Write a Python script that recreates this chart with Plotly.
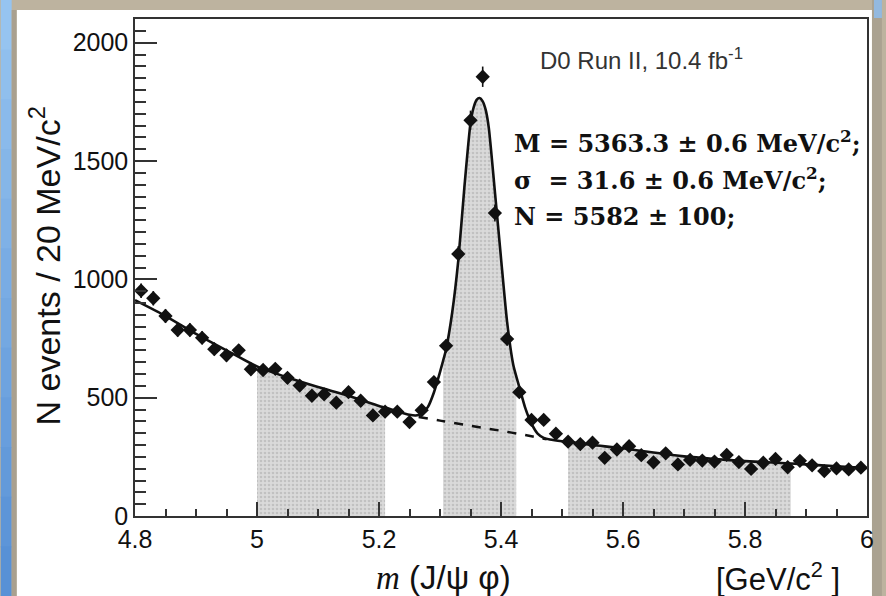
import numpy as np
import plotly.graph_objects as go

# ---------------- data ----------------
bin_lo, bin_w, n_bins = 4.80, 0.02, 60
bin_centers = np.round(bin_lo + bin_w / 2 + bin_w * np.arange(n_bins), 3)
counts = [952, 920, 845, 786, 786, 753, 705, 679, 700, 620,
          617, 622, 584, 551, 508, 514, 479, 523, 487, 425,
          441, 441, 397, 447, 566, 719, 1107, 1672, 1856, 1280,
          748, 523, 406, 406, 348, 314, 304, 310, 246, 281,
          295, 257, 227, 265, 218, 237, 234, 230, 258, 228,
          199, 225, 241, 206, 233, 214, 190, 201, 197, 204]

# total fit curve
fit_x = [4.80, 4.85, 4.90, 4.95, 5.00, 5.05, 5.10, 5.15, 5.20, 5.21, 5.23, 5.25,
         5.26, 5.27, 5.28, 5.29, 5.30, 5.305, 5.31, 5.32, 5.33, 5.34, 5.35, 5.355,
         5.36, 5.365, 5.37, 5.375, 5.38, 5.39, 5.40, 5.41, 5.42, 5.425, 5.43, 5.44,
         5.45, 5.46, 5.47, 5.48, 5.50, 5.51, 5.52, 5.55, 5.60, 5.65, 5.70, 5.75,
         5.80, 5.875, 5.90, 5.95, 6.00]
fit_y = [912, 845, 770, 700, 632, 585, 545, 508, 465, 458, 442, 428,
         425, 433, 460, 522, 608, 655, 705, 860, 1080, 1390, 1660, 1725,
         1758, 1766, 1752, 1715, 1640, 1370, 1090, 820, 640, 590, 545, 455,
         390, 348, 330, 323, 316, 314, 310, 300, 286, 268, 252, 241,
         232, 222, 218, 210, 203]

# background component under the peak (dashed)
bkg_x = [5.265, 5.30, 5.35, 5.40, 5.45, 5.475]
bkg_y = [418, 403, 381, 360, 337, 324]

# shaded mass windows
windows = [(5.00, 5.21), (5.305, 5.425), (5.51, 5.875)]

y_ticks = [0, 500, 1000, 1500, 2000]
x_ticks = [4.8, 5.0, 5.2, 5.4, 5.6, 5.8, 6.0]
x_tick_text = ["4.8", "5", "5.2", "5.4", "5.6", "5.8", "6"]

stats = ["M = 5363.3 ± 0.6 MeV/c<sup>2</sup>;",
         "σ  = 31.6 ± 0.6 MeV/c<sup>2</sup>;",
         "N = 5582 ± 100;"]

# ---------------- layout geometry (pixels) ----------------
W, H = 886, 596
L, R, T, B = 135, 871, 19, 516


def pxx(px):
    return (px - L) / (R - L)


def pxy(py):
    return (B - py) / (B - T)


fig = go.Figure()

fx = np.array(fit_x)
fy = np.array(fit_y)
for lo, hi in windows:
    m = (fx >= lo - 1e-9) & (fx <= hi + 1e-9)
    fig.add_trace(go.Scatter(
        x=fx[m], y=fy[m], mode="lines", line=dict(width=0),
        fill="tozeroy", fillcolor="#d6d6d6",
        fillpattern=dict(shape=".", bgcolor="#dadada", fgcolor="#a8a8a8",
                         size=4, solidity=0.35),
        hoverinfo="skip", showlegend=False))

fig.add_trace(go.Scatter(x=bkg_x, y=bkg_y, mode="lines",
                         line=dict(color="#111111", width=2.5, dash="dash", shape="spline"),
                         showlegend=False))
fig.add_trace(go.Scatter(x=fit_x, y=fit_y, mode="lines",
                         line=dict(color="#111111", width=2.6, shape="spline", smoothing=0.6),
                         showlegend=False))

cnt = np.array(counts, dtype=float)
fig.add_trace(go.Scatter(
    x=bin_centers, y=counts, mode="markers",
    marker=dict(symbol="diamond", size=11, color="#111111"),
    error_y=dict(type="data", array=np.sqrt(cnt), thickness=1.6, width=0, color="#111111"),
    error_x=dict(type="constant", value=bin_w * 0.4, thickness=1.6, width=0, color="#111111"),
    showlegend=False))

axis_font = dict(family="Liberation Sans, Arial, sans-serif", size=25, color="#111111")

fig.update_xaxes(range=[4.8, 6.0], tickmode="array", tickvals=x_ticks, ticktext=x_tick_text,
                 ticks="inside", ticklen=14, tickwidth=1.5, tickcolor="#333333",
                 minor=dict(tickmode="linear", tick0=4.8, dtick=0.05, ticks="inside",
                            ticklen=7, tickwidth=1.5, tickcolor="#333333"),
                 showline=True, linecolor="#333333", linewidth=1.5, mirror=True,
                 showgrid=False, zeroline=False, tickfont=axis_font)
fig.update_yaxes(range=[0, 2100], tickmode="array", tickvals=y_ticks,
                 ticks="inside", ticklen=22, tickwidth=1.5, tickcolor="#333333",
                 minor=dict(tickmode="linear", tick0=0, dtick=50, ticks="inside",
                            ticklen=11, tickwidth=1.5, tickcolor="#333333"),
                 showline=True, linecolor="#333333", linewidth=1.5, mirror=True,
                 showgrid=False, zeroline=False, tickfont=axis_font)

# ---------------- slide background ----------------
shapes = []
shapes.append(dict(type="rect", xref="paper", yref="paper", layer="below",
                   x0=pxx(16), x1=pxx(876), y0=pxy(10), y1=pxy(W), fillcolor="white",
                   line=dict(width=0)))
# left blue gradient strip
n_s = 12
top_c = np.array([150, 196, 240])
bot_c = np.array([88, 145, 214])
for i in range(n_s):
    c = top_c + (bot_c - top_c) * i / (n_s - 1)
    y0p = i * H / n_s
    shapes.append(dict(type="rect", xref="paper", yref="paper", layer="below",
                       x0=pxx(0), x1=pxx(11), y0=pxy(y0p), y1=pxy(y0p + H / n_s + 1),
                       fillcolor="rgb(%d,%d,%d)" % tuple(c), line=dict(width=0)))
shapes.append(dict(type="rect", xref="paper", yref="paper", layer="below",
                   x0=pxx(11), x1=pxx(16), y0=pxy(10), y1=pxy(H),
                   fillcolor="#a9a08f", line=dict(width=0)))
shapes.append(dict(type="rect", xref="paper", yref="paper", layer="below",
                   x0=pxx(876), x1=pxx(W), y0=pxy(0), y1=pxy(H),
                   fillcolor="#aaa291", line=dict(width=0)))
shapes.append(dict(type="rect", xref="paper", yref="paper", layer="below",
                   x0=pxx(878), x1=pxx(W), y0=pxy(0), y1=pxy(18),
                   fillcolor="#93b9df", line=dict(width=0)))

annotations = []
annotations.append(dict(xref="paper", yref="paper", x=pxx(540), y=pxy(59), xanchor="left",
                        yanchor="middle", showarrow=False,
                        text="D0 Run II, 10.4 fb<sup>-1</sup>",
                        font=dict(family="Liberation Sans, Arial", size=24, color="#333333")))
for i, s in enumerate(stats):
    annotations.append(dict(xref="paper", yref="paper", x=pxx(514), y=pxy(142 + 37 * i),
                            xanchor="left", yanchor="middle", showarrow=False,
                            text="<b>" + s + "</b>",
                            font=dict(family="DejaVu Serif", size=24, color="#111111")))
annotations.append(dict(xref="paper", yref="paper", x=pxx(44), y=pxy(266), textangle=-90,
                        xanchor="center", yanchor="middle", showarrow=False,
                        text="N events / 20 MeV/c<sup>2</sup>",
                        font=dict(family="Liberation Sans, Arial", size=34, color="#111111")))
annotations.append(dict(xref="paper", yref="paper", x=pxx(445), y=pxy(577),
                        xanchor="center", yanchor="middle", showarrow=False,
                        text="<span style='font-family:Liberation Serif'><i>m</i></span> (J/ψ φ)",
                        font=dict(family="Liberation Sans, Arial", size=33, color="#111111")))
annotations.append(dict(xref="paper", yref="paper", x=pxx(782), y=pxy(577),
                        xanchor="center", yanchor="middle", showarrow=False,
                        text="[GeV/c<sup>2</sup> ]",
                        font=dict(family="Liberation Sans, Arial", size=31, color="#111111")))

fig.update_layout(width=W, height=H, autosize=False,
                  margin=dict(l=L, r=W - R, t=T, b=H - B, pad=0),
                  paper_bgcolor="#bdb39f", plot_bgcolor="rgba(0,0,0,0)",
                  shapes=shapes, annotations=annotations, showlegend=False)

fig.write_html("out.html", include_plotlyjs=True)
